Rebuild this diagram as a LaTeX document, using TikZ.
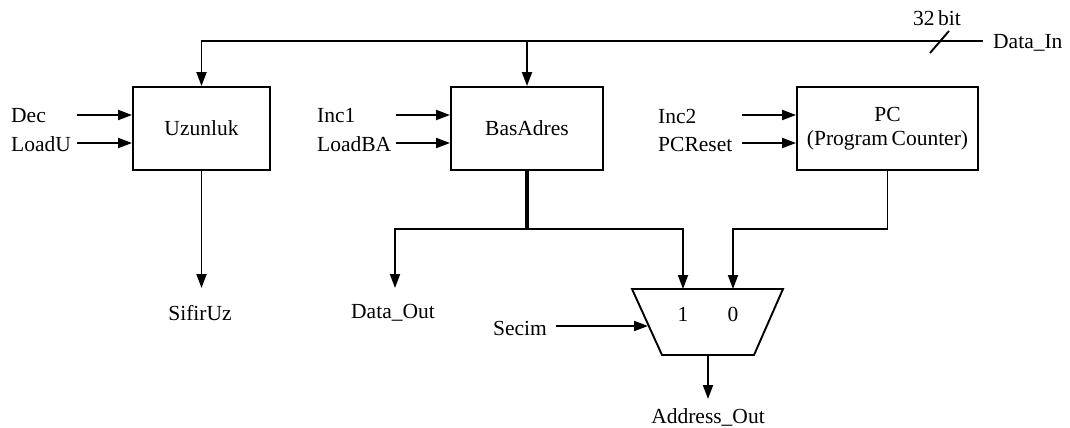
\documentclass[tikz,border=0pt]{standalone}
\usepackage{fontspec}
\setmainfont{Liberation Serif}
\usetikzlibrary{arrows.meta}
\begin{document}
\begin{tikzpicture}[x=1pt,y=-1pt,
  font=\fontsize{21.5}{26}\selectfont,
  wire/.style={line width=1.9pt},
  arr/.style={wire,-{Triangle[length=14pt,width=10pt]}},
  blk/.style={draw,line width=1.9pt,inner sep=0pt,align=center},
  lbl/.style={inner sep=0pt}]
\useasboundingbox (0,0) rectangle (1070,428);
% blocks
\node[blk,minimum width=137pt,minimum height=83pt] (uz) at (201.5,128.5) {Uzunluk};
\node[blk,minimum width=152pt,minimum height=83pt] (ba) at (527,128.5) {BasAdres};
\node[blk,minimum width=181pt,minimum height=83pt] (pc) at (887.5,128.5) {PC\\[-2pt](Program\,Counter)};
% mux
\coordinate (mTL) at (632,289);
\coordinate (mTR) at (783,289);
\coordinate (mBR) at (754,355);
\coordinate (mBL) at (662,355);
\draw[wire,line join=miter] (mTL) -- (mTR) -- (mBR) -- (mBL) -- cycle;
\coordinate (mOut) at (708,355);
\coordinate (in1) at (683,289);
\coordinate (in0) at (733,289);
\coordinate (mSel) at (648,326);
\node[lbl] (one) at (683,314) {1};
\node[lbl] (zero) at (733,314) {0};
% labels
\node[lbl,anchor=west] (dec) at (11,116) {Dec};
\node[lbl,anchor=west] (ldu) at (11,144) {LoadU};
\node[lbl,anchor=west] (inc1) at (317,116) {Inc1};
\node[lbl,anchor=west] (ldba) at (317,144) {LoadBA};
\node[lbl,anchor=west] (inc2) at (658,116) {Inc2};
\node[lbl,anchor=west] (pcr) at (658,144) {PCReset};
\node[lbl] (sfu) at (200,313) {SifirUz};
\node[lbl] (dout) at (393,313) {Data\_Out};
\node[lbl] (sec) at (520,328) {Secim};
\node[lbl] (aout) at (708,417) {Address\_Out};
\node[lbl,anchor=west] (din) at (993,43) {Data\_In};
\node[lbl] (bits) at (937,18) {32\,bit};
% data in bus
\coordinate (busR) at (983,41);
\draw[arr] (busR) -| (uz.north);
\draw[arr] (ba.north |- busR) -- (ba.north);
\draw[wire] (930,53) -- (949,31);
% control inputs
\draw[arr] (77,115) -- (uz.west |- 0,115);
\draw[arr] (77,143) -- (uz.west |- 0,143);
\draw[arr] (396,115) -- (ba.west |- 0,115);
\draw[arr] (396,143) -- (ba.west |- 0,143);
\draw[arr] (742,115) -- (pc.west |- 0,115);
\draw[arr] (742,143) -- (pc.west |- 0,143);
% outputs
\draw[arr] (uz.south) -- (uz.south |- 0,288);
\coordinate (jn) at (527,229);
\draw[line width=3.2pt] (ba.south) -- (jn);
\draw[arr] (jn) -| (395,288);
\draw[arr] (jn) -| (in1);
\draw[arr] (pc.south) |- (in0 |- jn) -- (in0);
\draw[arr] (556,326) -- (mSel);
\draw[arr] (mOut) -- (708,399);
\end{tikzpicture}
\end{document}
